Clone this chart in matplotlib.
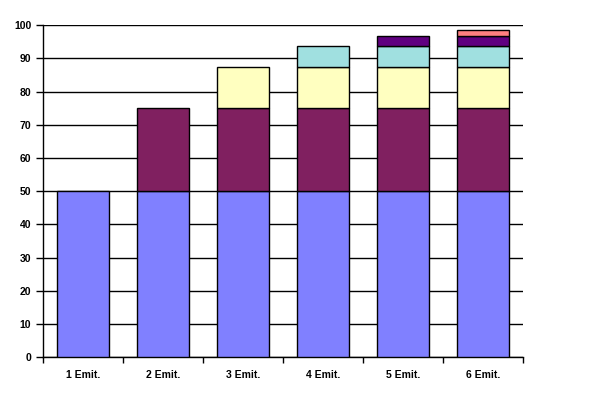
import matplotlib
matplotlib.use("Agg")
import matplotlib.pyplot as plt
import numpy as np

categories = ["1 Emit.", "2 Emit.", "3 Emit.", "4 Emit.", "5 Emit.", "6 Emit."]
# one list per stacked series (bottom to top)
s1 = [50, 50, 50, 50, 50, 50]
s2 = [0, 25, 25, 25, 25, 25]
s3 = [0, 0, 12.5, 12.5, 12.5, 12.5]
s4 = [0, 0, 0, 6.25, 6.25, 6.25]
s5 = [0, 0, 0, 0, 3.125, 3.125]
s6 = [0, 0, 0, 0, 0, 1.5625]
colors = ["#8080FF", "#802060", "#FFFFC0", "#A0E0E0", "#600080", "#FF8080"]

plt.rcParams['font.family'] = ['Liberation Sans', 'DejaVu Sans']

fig = plt.figure(figsize=(5.97, 3.99), dpi=100)
ax = fig.add_axes([0.072, 0.105, 0.804, 0.832])

x = np.arange(len(categories))
bottom = np.zeros(len(categories))
for vals, c in zip([s1, s2, s3, s4, s5, s6], colors):
    vals = np.array(vals, dtype=float)
    mask = vals > 0
    ax.bar(x[mask], vals[mask], width=0.66, bottom=bottom[mask], color=c,
           edgecolor="black", linewidth=1, zorder=3)
    bottom += vals

ax.set_xlim(-0.5, len(categories) - 0.5)
ax.set_ylim(0, 100)
ax.set_yticks(range(0, 101, 10))
ax.yaxis.grid(True, color="black", linewidth=1, zorder=0)
ax.set_xticks(x)
ax.set_xticklabels(categories, fontsize=7.5, fontweight="bold")
ax.set_xticks(np.arange(-0.5, len(categories)), minor=True)
ax.tick_params(axis="x", which="major", length=0, pad=9)
ax.tick_params(axis="x", which="minor", length=4, width=1, direction="out")
ax.tick_params(axis="y", labelsize=7.5, length=5, width=1, direction="out")
for lbl in ax.get_yticklabels():
    lbl.set_fontweight("bold")
for s in ["top", "right"]:
    ax.spines[s].set_visible(False)
ax.spines["left"].set_linewidth(1)
ax.spines["bottom"].set_linewidth(1)

fig.savefig("out.png", dpi=100)
